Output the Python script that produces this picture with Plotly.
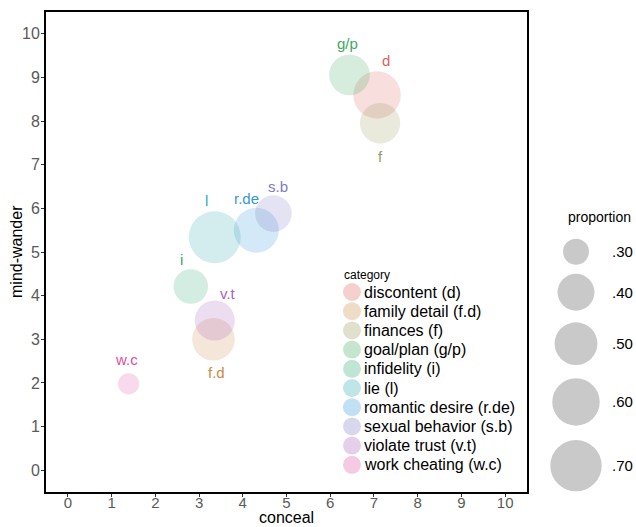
import math
import plotly.graph_objects as go

# ---- data -------------------------------------------------------------
categories = ["discontent", "family detail", "finances", "goal/plan", "infidelity",
              "lie", "romantic desire", "sexual behavior", "violate trust", "work cheating"]
codes = ["d", "f.d", "f", "g/p", "i", "l", "r.de", "s.b", "v.t", "w.c"]
conceal = [7.07, 3.33, 7.14, 6.44, 2.81, 3.36, 4.31, 4.70, 3.36, 1.39]
mind_wander = [8.60, 3.00, 7.95, 9.06, 4.21, 5.34, 5.50, 5.88, 3.43, 1.98]
proportion = [0.60, 0.495, 0.455, 0.46, 0.37, 0.717, 0.544, 0.396, 0.448, 0.29]

size_breaks = [0.30, 0.40, 0.50, 0.60, 0.70]
size_break_labels = [".30", ".40", ".50", ".60", ".70"]
axis_ticks = list(range(0, 11))

# ---- styling ----------------------------------------------------------
FONT = "Liberation Sans, Arial, sans-serif"
W, H = 636, 527
colors = ["#E0625A", "#C98A45", "#98985A", "#3EA95E", "#2EA874",
          "#2DAAAE", "#3598DA", "#7B7BC6", "#A960BD", "#DE4FA0"]
ALPHA = 0.3

# label nudges (data units) relative to each bubble centre
label_dx = [0.21, 0.06, 0.00, -0.04, -0.21, -0.18, -0.22, 0.10, 0.30, -0.05]
label_dy = [0.80, -0.75, -0.75, 0.72, 0.62, 0.83, 0.73, 0.62, 0.61, 0.56]

D_MIN, D_MAX = 21.3, 52.0
p_lo, p_hi = min(proportion), max(proportion)


def diameter(v):
    """Area-style size scale: diameter grows with sqrt of rescaled value."""
    t = max(0.0, (v - p_lo) / (p_hi - p_lo))
    return D_MIN + (D_MAX - D_MIN) * math.sqrt(t)


def rgba(hex_color, a):
    h = hex_color.lstrip("#")
    r, g, b = (int(h[i:i + 2], 16) for i in (0, 2, 4))
    return f"rgba({r},{g},{b},{a})"


fig = go.Figure()

# bubbles
fig.add_trace(go.Scatter(
    x=conceal, y=mind_wander, mode="markers",
    marker=dict(size=[diameter(v) for v in proportion],
                color=[rgba(c, ALPHA) for c in colors],
                line=dict(width=0)),
    customdata=categories, hovertemplate="%{customdata}<extra></extra>",
    showlegend=False, xaxis="x", yaxis="y"))

annotations = []
for cx, cy, code, col, dx, dy in zip(conceal, mind_wander, codes, colors, label_dx, label_dy):
    annotations.append(dict(x=cx + dx, y=cy + dy, xref="x", yref="y", text=code,
                            showarrow=False, xanchor="center", yanchor="middle",
                            font=dict(family=FONT, size=15, color=col)))

# ---- axis titles (pixel-space overlay) -----------------------------------
px_left, px_right, px_top, px_bottom = 46, 527, 12, 492
annotations.append(dict(x=(px_left + px_right) / 2, y=H - 0.5, xref="x2", yref="y2",
                        text="conceal", showarrow=False, xanchor="center",
                        yanchor="bottom", borderpad=0,
                        font=dict(family=FONT, size=16, color="black")))
annotations.append(dict(x=16, y=(px_top + px_bottom) / 2, xref="x2", yref="y2",
                        text="mind-wander", showarrow=False, textangle=-90,
                        xanchor="center", yanchor="middle",
                        font=dict(family=FONT, size=16, color="black")))

# ---- category key --------------------------------------------------------
key_x, key_text_x, key_y0, key_step = 352, 362, 292, 19.2
key_y = [key_y0 + i * key_step for i in range(len(categories))]
fig.add_trace(go.Scatter(
    x=[key_x] * len(categories), y=key_y, mode="markers",
    marker=dict(size=18, color=[rgba(c, ALPHA) for c in colors], line=dict(width=0)),
    hoverinfo="skip", showlegend=False, xaxis="x2", yaxis="y2"))
annotations.append(dict(x=342, y=275, xref="x2", yref="y2", text="category",
                        showarrow=False, xanchor="left", yanchor="middle",
                        font=dict(family=FONT, size=12, color="black")))
for name, code, yy in zip(categories, codes, key_y):
    annotations.append(dict(x=key_text_x, y=yy, xref="x2", yref="y2",
                            text=f"{name} ({code})", showarrow=False,
                            xanchor="left", yanchor="middle",
                            font=dict(family=FONT, size=16, color="black")))

# ---- size key ----------------------------------------------------------
size_d = [diameter(v) for v in size_breaks]
size_y = [251.7]
for a, b in zip(size_d[:-1], size_d[1:]):
    size_y.append(size_y[-1] + 1.29 * (a + b) / 2)
fig.add_trace(go.Scatter(
    x=[576] * len(size_breaks), y=size_y, mode="markers",
    marker=dict(size=size_d, color="rgba(0,0,0,0.3)", line=dict(width=0)),
    hoverinfo="skip", showlegend=False, xaxis="x2", yaxis="y2"))
annotations.append(dict(x=599, y=217, xref="x2", yref="y2", text="proportion",
                        showarrow=False, xanchor="center", yanchor="middle",
                        font=dict(family=FONT, size=14, color="black")))
for lab, yy in zip(size_break_labels, size_y):
    annotations.append(dict(x=610, y=yy, xref="x2", yref="y2", text=lab,
                            showarrow=False, xanchor="left", yanchor="middle",
                            font=dict(family=FONT, size=15, color="black")))

# ---- layout ------------------------------------------------------------
axis_common = dict(range=[-0.5, 10.5], tickvals=axis_ticks, ticks="outside",
                   ticklen=3, tickwidth=1, tickcolor="#333333",
                   showline=True, mirror=True, linewidth=2, linecolor="black",
                   showgrid=False, zeroline=False)

fig.update_layout(
    width=W, height=H,
    margin=dict(l=0, r=0, t=0, b=0),
    paper_bgcolor="white", plot_bgcolor="rgba(0,0,0,0)",
    xaxis=dict(domain=[px_left / W, px_right / W], anchor="y",
               ticklabelstandoff=-7,
               tickfont=dict(family=FONT, size=15, color="#5a5a5a"),
               **axis_common),
    yaxis=dict(domain=[1 - px_bottom / H, 1 - px_top / H], anchor="x",
               ticklabelstandoff=-2,
               tickfont=dict(family=FONT, size=16, color="#5a5a5a"),
               **axis_common),
    xaxis2=dict(domain=[0, 1], range=[0, W], anchor="y2", visible=False,
                fixedrange=True),
    yaxis2=dict(domain=[0, 1], range=[H, 0], anchor="x2", visible=False,
                fixedrange=True),
    annotations=annotations,
    showlegend=False,
)

fig.write_html("out.html")
